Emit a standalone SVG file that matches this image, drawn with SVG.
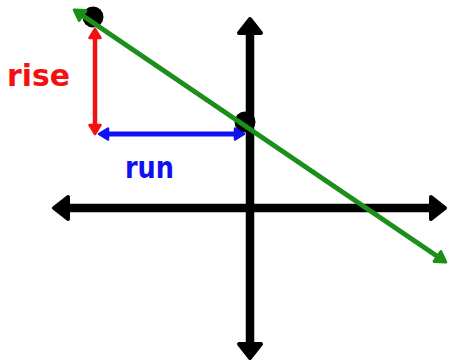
<svg xmlns="http://www.w3.org/2000/svg" width="449" height="361" viewBox="0 0 449 361">
<style>
.axis{stroke:#000;stroke-width:8.5;fill:none}
.lbl{font-family:"DejaVu Sans","Liberation Sans",sans-serif;font-weight:bold;font-size:30px}
</style>
<defs>
<marker id="hk" markerUnits="userSpaceOnUse" orient="auto-start-reverse" refX="0" refY="0" markerWidth="40" markerHeight="40" viewBox="-5 -20 40 40" overflow="visible">
<path d="M0,-11 L14,0 L0,11 Z" fill="#000" stroke="#000" stroke-width="4" stroke-linejoin="round"/>
</marker>
<marker id="hg" markerUnits="userSpaceOnUse" orient="auto-start-reverse" refX="0" refY="0" markerWidth="30" markerHeight="30" viewBox="-5 -15 30 30" overflow="visible">
<path d="M0,-6 L10,0 L0,6 Z" fill="#1a8f1a" stroke="#1a8f1a" stroke-width="3" stroke-linejoin="round"/>
</marker>
<marker id="hr" markerUnits="userSpaceOnUse" orient="auto-start-reverse" refX="0" refY="0" markerWidth="30" markerHeight="30" viewBox="-5 -15 30 30" overflow="visible">
<path d="M0,-5.5 L9,0 L0,5.5 Z" fill="#f21010" stroke="#f21010" stroke-width="2.5" stroke-linejoin="round"/>
</marker>
<marker id="hb" markerUnits="userSpaceOnUse" orient="auto-start-reverse" refX="0" refY="0" markerWidth="30" markerHeight="30" viewBox="-5 -15 30 30" overflow="visible">
<path d="M0,-5.5 L9,0 L0,5.5 Z" fill="#1010f0" stroke="#1010f0" stroke-width="2.5" stroke-linejoin="round"/>
</marker>
</defs>
<rect width="449" height="361" fill="#fff"/>
<g id="connectors">
<path id="x-axis" class="axis" d="M68,208 H431" marker-start="url(#hk)" marker-end="url(#hk)"/>
<path id="y-axis" class="axis" d="M250,33 V344" marker-start="url(#hk)" marker-end="url(#hk)"/>
</g>
<g id="point1"><circle cx="93" cy="17" r="10.5" fill="#000"/></g>
<g id="point2"><circle cx="245" cy="122" r="10.5" fill="#000"/></g>
<g id="rise">
<path d="M95,38 V125" stroke="#f21010" stroke-width="4.5" fill="none" marker-start="url(#hr)" marker-end="url(#hr)"/>
<text class="lbl" x="7" y="86" fill="#f21010" textLength="63" lengthAdjust="spacingAndGlyphs">rise</text>
</g>
<g id="run">
<path d="M108,134 H235" stroke="#1010f0" stroke-width="5" fill="none" marker-start="url(#hb)" marker-end="url(#hb)"/>
<text class="lbl" x="125" y="178" fill="#1010f0" textLength="49" lengthAdjust="spacingAndGlyphs">run</text>
</g>
<g id="line">
<path d="M82.5,15.5 L437.5,256.5" stroke="#1a8f1a" stroke-width="5" fill="none" marker-start="url(#hg)" marker-end="url(#hg)"/>
</g>
</svg>
